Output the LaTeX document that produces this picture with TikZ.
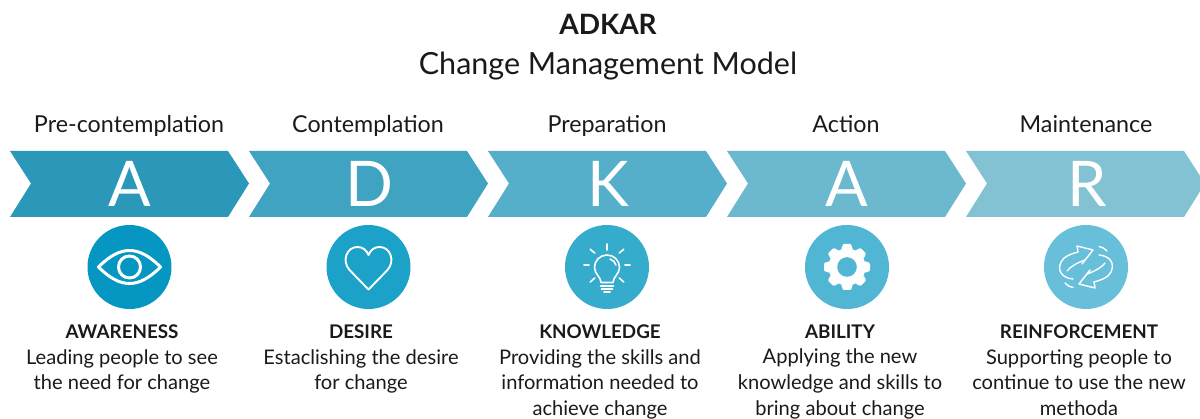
\documentclass[tikz,border=0pt]{standalone}
\usepackage{fontspec}
\setmainfont{Lato}
\definecolor{chA}{HTML}{2B98B9}\definecolor{chD}{HTML}{40A3C1}\definecolor{chK}{HTML}{55AECA}\definecolor{chB}{HTML}{6BB8CF}\definecolor{chR}{HTML}{82C2D3}
\definecolor{ciA}{HTML}{0597C1}\definecolor{ciD}{HTML}{1CA2C8}\definecolor{ciK}{HTML}{36ACCD}\definecolor{ciB}{HTML}{50B6D3}\definecolor{ciR}{HTML}{68BFDA}
\definecolor{ink}{HTML}{1A1A1A}
\newcommand{\hd}[1]{{\fontsize{18.8}{25.7}\selectfont\bfseries #1}}
\tikzset{
 letterlab/.style={text=white,font=\fontsize{63}{64}\selectfont,anchor=base,inner sep=0pt},
 stagelab/.style={text=ink,font=\fontsize{23.3}{25}\selectfont,anchor=base,inner sep=0pt},
 desclab/.style={text=ink,font=\fontsize{20.1}{25.7}\selectfont,anchor=north,align=center,inner sep=0pt},
 disc/.style={circle,minimum size=84pt,inner sep=0pt},
 iconline/.style={draw=white,line cap=round,line join=round},
}
\newcommand{\chev}[2]{\fill[#2] (#1,151) -- ++(218,0) -- ++(21,32.5) -- ++(-21,33.5) -- (#1,217) -- ++(21,-33.5) -- cycle;}
\begin{document}
\begin{tikzpicture}[x=1pt,y=-1pt]
\useasboundingbox (0,0) rectangle (1200,419);
\clip (0,0) rectangle (1200,419);
\node[anchor=base,inner sep=0pt,text=ink,font=\fontsize{28}{30}\selectfont\bfseries] (title) at (608,35) {ADKAR};
\node[anchor=base,inner sep=0pt,text=ink,font=\fontsize{30.5}{30}\selectfont] (subtitle) at (608,75) {Change Management Model};
\chev{10}{chA}\chev{249}{chD}\chev{488}{chK}\chev{727}{chB}\chev{966}{chR}
\node[stagelab] (s1) at (129,133) {Pre-contemplation};
\node[stagelab] (s2) at (368,133) {Contemplation};
\node[stagelab] (s3) at (607,133) {Preparation};
\node[stagelab] (s4) at (846,133) {Action};
\node[stagelab] (s5) at (1086,133) {Maintenance};
\node[letterlab] (l1) at (130,207) {A};
\node[letterlab] (l2) at (369,207) {D};
\node[letterlab] (l3) at (608,207) {K};
\node[letterlab] (l4) at (847,207) {A};
\node[letterlab] (l5) at (1087,207) {R};
\node[disc,fill=ciA] (c1) at (129.5,267) {};
\node[disc,fill=ciD] (c2) at (368.5,267) {};
\node[disc,fill=ciK] (c3) at (607,267) {};
\node[disc,fill=ciB] (c4) at (847,267) {};
\node[disc,fill=ciR] (c5) at (1086,267) {};
% eye
\begin{scope}[shift={(c1.center)},iconline,line width=3pt]
\draw (-31,0) .. controls (-20,-11) and (-10,-16.5) .. (0,-16.5) .. controls (10,-16.5) and (20,-11) .. (31,0) .. controls (20,11) and (10,16.5) .. (0,16.5) .. controls (-10,16.5) and (-20,11) .. cycle;
\draw (0,0) circle (11);
\end{scope}
% heart
\begin{scope}[shift={(c2.center)},iconline,line width=1.9pt]
\draw (0,22.5) -- (-19,3) .. controls (-27,-6) and (-22,-20) .. (-11,-20) .. controls (-6,-20) and (-2,-17) .. (0,-12) .. controls (2,-17) and (6,-20) .. (11,-20) .. controls (22,-20) and (27,-6) .. (19,3) -- cycle;
\end{scope}
% bulb
\begin{scope}[shift={(c3.center)},iconline,line width=1.6pt]
\draw (-6,15.5) .. controls (-6,10) and (-12.5,7) .. (-12.5,0.5) .. controls (-12.5,-6.5) and (-7,-12) .. (0,-12) .. controls (7,-12) and (12.5,-6.5) .. (12.5,0.5) .. controls (12.5,7) and (6,10) .. (6,15.5) -- cycle;
\draw (3,-8) .. controls (6,-7) and (8,-5) .. (9,-2);
\draw (-6.5,19) -- (6.5,19); \draw (-5.5,22) -- (5.5,22); \draw (-3,25) -- (3,25);
\draw (0,-23) -- (0,-17);
\draw (-16.7,-17.7) -- (-12.3,-14); \draw (16.7,-17.7) -- (12.3,-14);
\draw (-23,-1.7) -- (-18,-1.7); \draw (18,-1.7) -- (23,-1.7);
\draw (-16.7,15) -- (-12.3,11); \draw (16.7,15) -- (12.3,11);
\end{scope}
% gear
\begin{scope}[shift={(c4.center)}]
\foreach \a in {0,45,...,315}{\fill[white,rounded corners=1pt,rotate=\a] (17,-6) -- (23,-4) -- (23,4) -- (17,6) -- cycle;}
\fill[white] (0,0) circle (18.5);
\fill[ciB] (0,0) circle (9.8);
\end{scope}
% cycle arrows
\begin{scope}[shift={(c5.center)},iconline,line width=1.4pt]
\foreach \r in {0,180}{
\begin{scope}[rotate=\r]
\draw (-13,12) .. controls (-24,11) and (-29,4) .. (-25,-5) .. controls (-22,-11) and (-15,-13) .. (-8,-15);
\draw (-19,4) .. controls (-15,-1) and (-9,-4) .. (-1,-7);
\draw (-8,-15) -- (-9,-21) -- (7,-17) -- (-4,-3) -- (-1,-7);
\draw (-21,16) .. controls (-19,18.5) and (-16,20) .. (-13,20.5);
\end{scope}}
\end{scope}
\node[desclab] (d1) at (122,324.5) {\hd{AWARENESS}\\Leading people to see\\the need for change};
\node[desclab] (d2) at (361,324.5) {\hd{DESIRE}\\Estaclishing the desire\\for change};
\node[desclab] (d3) at (600,324.5) {\hd{KNOWLEDGE}\\Providing the skills and\\information needed to\\achieve change};
\node[desclab] (d4) at (840,324.5) {\hd{ABILITY}\\Applying the new\\knowledge and skills to\\bring about change};
\node[desclab] (d5) at (1079,324.5) {\hd{REINFORCEMENT}\\Supporting people to\\continue to use the new\\methoda};
\end{tikzpicture}
\end{document}
